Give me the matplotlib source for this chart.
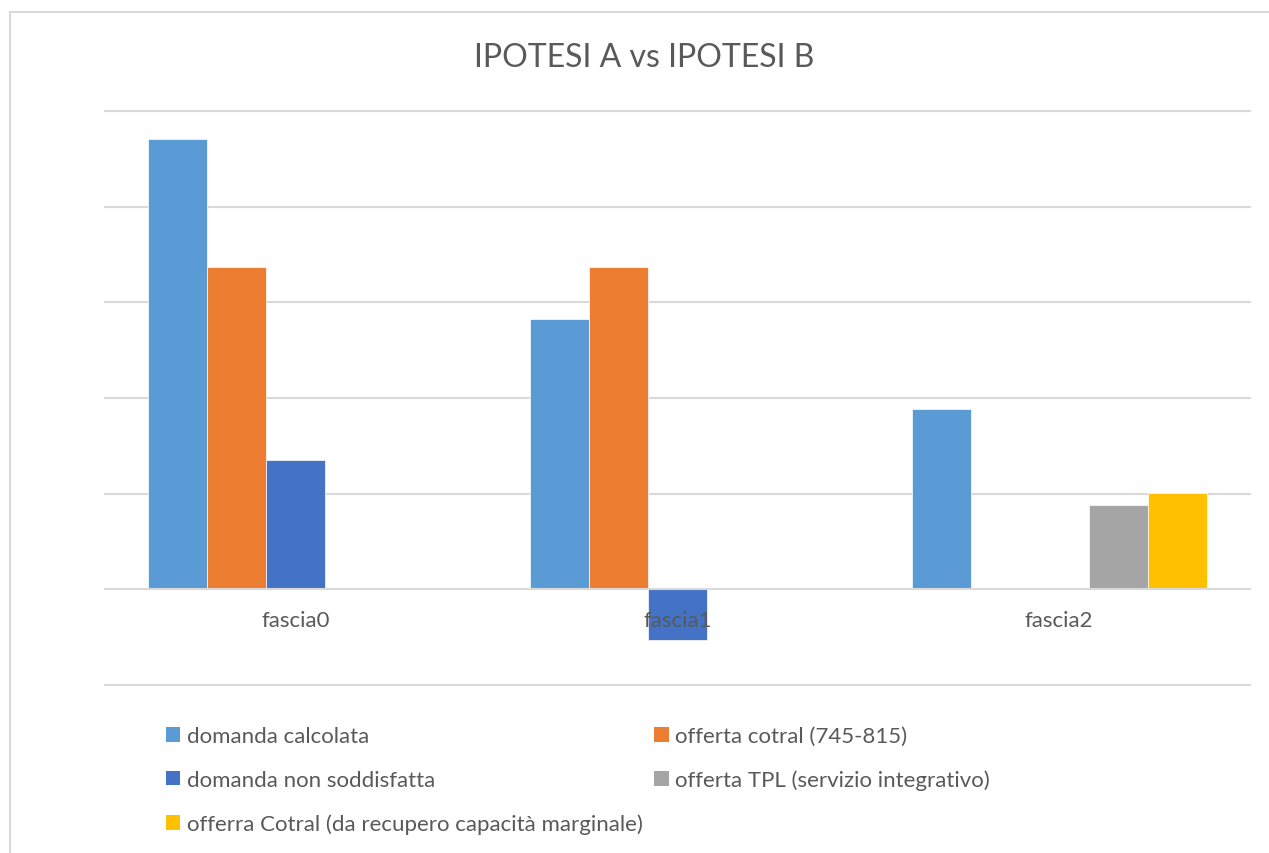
import matplotlib
matplotlib.use("Agg")
import matplotlib.pyplot as plt
from matplotlib.patches import Patch, Rectangle
import numpy as np

categories = ["fascia0", "fascia1", "fascia2"]
series_names = [
    "domanda calcolata",
    "offerta cotral (745-815)",
    "domanda non soddisfatta",
    "offerta TPL (servizio integrativo)",
    "offerra Cotral (da recupero capacità marginale)",
]
domanda_calcolata = [4.71, 2.83, 1.89]
offerta_cotral = [3.37, 3.37, 0.0]
domanda_non_soddisfatta = [1.35, -0.53, 0.0]
offerta_tpl = [0.0, 0.0, 0.88]
offerta_cotral_marginale = [0.0, 0.0, 1.01]
series_values = [domanda_calcolata, offerta_cotral, domanda_non_soddisfatta,
                 offerta_tpl, offerta_cotral_marginale]
colors = ["#5B9BD5", "#ED7D31", "#4472C4", "#A5A5A5", "#FFC000"]

text_color = "#595959"
grid_color = "#D9D9D9"
plt.rcParams['font.family'] = ['Lato', 'DejaVu Sans']

W, H = 1269, 854
fig = plt.figure(figsize=(W / 100, H / 100), dpi=100)
fig.patch.set_facecolor("white")

# chart border
fig.add_artist(Rectangle((9.5 / W, -0.01), 1.02 - 9.5 / W, 1.01 - 12.5 / H + 0.0,
                         transform=fig.transFigure, fill=False,
                         edgecolor=grid_color, linewidth=1.5))

ax = fig.add_axes([105 / W, (H - 686) / H, (1250 - 105) / W, (686 - 112) / H])
ax.set_xlim(0, 3)
ax.set_ylim(-1, 5)
for s in ax.spines.values():
    s.set_visible(False)

for y in range(-1, 6):
    ax.axhline(y, color=grid_color, linewidth=1.5, zorder=3 if y == 0 else 0,
               clip_on=False)

bw = 59 / 382
x = np.arange(len(categories)) + 0.5
for j, (vals, c) in enumerate(zip(series_values, colors)):
    ax.bar(x + (j - 2) * bw, vals, width=bw, color=c, zorder=2,
           edgecolor="white", linewidth=0.5)

ax.set_yticks([])
ax.spines['bottom'].set_position(('data', 0))
ax.set_xticks(x)
ax.set_xticklabels(categories)
ax.tick_params(axis='x', length=0, pad=15, labelsize=16, labelcolor=text_color)
ax.xaxis.set_zorder(5)

fig.text(644 / W, 1 - 58 / H, "IPOTESI A vs IPOTESI B", fontsize=23,
         color=text_color, ha="center", va="center")

handles = [Patch(facecolor=c, edgecolor="none") for c in colors]
order = [0, 2, 4, 1, 3]
leg = fig.legend([handles[i] for i in order], [series_names[i] for i in order],
                 ncol=2, loc="upper left", bbox_to_anchor=(146 / W, 1 - 707 / H),
                 frameon=False, fontsize=16, labelcolor=text_color,
                 handlelength=0.65, handleheight=0.65, handletextpad=0.3,
                 labelspacing=1.07, columnspacing=0.5)

fig.savefig("out.png", dpi=100, facecolor="white")
